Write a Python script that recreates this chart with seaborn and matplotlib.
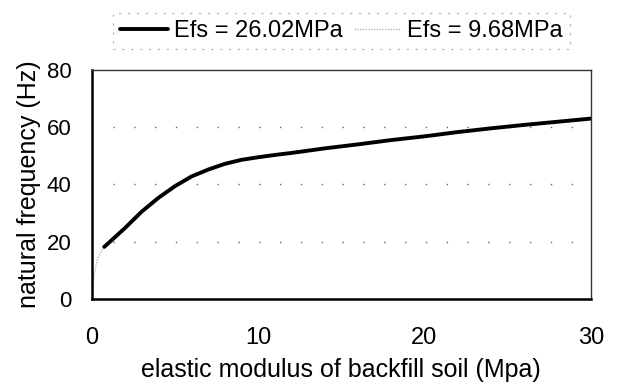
import numpy as np
import pandas as pd
import matplotlib
matplotlib.use("Agg")
import matplotlib.pyplot as plt
import seaborn as sns

# data
efs_high_x = [0.75, 1, 2, 3, 4, 5, 6, 7, 8, 9, 10, 11, 12, 14, 16, 18, 20, 22, 24, 26, 28, 30]
efs_high_y = [18.2, 19.5, 24.8, 30.5, 35.3, 39.4, 42.8, 45.2, 47.2, 48.6, 49.5, 50.3, 51.0,
              52.6, 54.0, 55.5, 56.8, 58.3, 59.6, 60.8, 61.9, 63.0]
efs_low_x = [0, 0.05, 0.15, 0.35, 0.6, 0.75, 1, 2, 3, 4, 5, 6, 7, 8, 9, 10, 12, 16, 20, 24, 30]
efs_low_y = [1, 3, 9, 14, 17, 18.2, 19.5, 24.8, 30.5, 35.3, 39.4, 42.8, 45.2, 47.2, 48.6,
             49.5, 51.0, 54.0, 56.8, 59.6, 63.0]
labels = ["Efs = 26.02MPa", "Efs = 9.68MPa"]
x_ticks = [0, 10, 20, 30]
y_ticks = [0, 20, 40, 60, 80]

sns.set_theme(style="white")
plt.rcParams['font.family'] = ['Liberation Sans', 'DejaVu Sans']
plt.rcParams['text.color'] = 'black'
plt.rcParams['axes.labelcolor'] = 'black'

df_high = pd.DataFrame({'E': efs_high_x, 'f': efs_high_y})
df_low = pd.DataFrame({'E': efs_low_x, 'f': efs_low_y})

fig = plt.figure(figsize=(6.2, 3.85), dpi=100)
ax = fig.add_axes([0.148, 0.2234, 0.805, 0.595])

sns.lineplot(data=df_low, x='E', y='f', ax=ax, color='#b5b5b5', lw=1.0,
             linestyle=(0, (1, 1)), label=labels[1])
sns.lineplot(data=df_high, x='E', y='f', ax=ax, color='black', lw=2.8, label=labels[0])

ax.set_xlim(0, 30)
ax.set_ylim(0, 80)
ax.set_xticks(x_ticks)
ax.set_yticks(y_ticks)
for yv in y_ticks[1:-1]:
    ax.axhline(yv, color='#666666', lw=1.0, linestyle=(0, (1, 14)), zorder=0)

ax.tick_params(axis='both', direction='in', length=7, width=1.5, colors='black')
ax.tick_params(axis='y', pad=14.5, labelsize=16)
ax.tick_params(axis='x', pad=20, labelsize=17)
for side in ['left', 'bottom']:
    ax.spines[side].set_color('black')
    ax.spines[side].set_linewidth(1.8)
for side in ['top', 'right']:
    ax.spines[side].set_color('#333333')
    ax.spines[side].set_linewidth(1.0)

ax.set_xlabel("elastic modulus of backfill soil (Mpa)", fontsize=18, labelpad=7)
ax.set_ylabel("natural frequency (Hz)", fontsize=18, labelpad=4)

handles, lbls = ax.get_legend_handles_labels()
ax.get_legend().remove()
order = [lbls.index(l) for l in labels]
leg = fig.legend([handles[i] for i in order], [lbls[i] for i in order],
                 loc='center', bbox_to_anchor=(0.551, 0.919), ncol=2, fontsize=17,
                 frameon=True, fancybox=False, handlelength=2.0, handletextpad=0.25,
                 columnspacing=0.5, borderpad=0.3)
leg.get_frame().set_edgecolor('#999999')
leg.get_frame().set_linestyle((0, (2, 6)))
leg.get_frame().set_linewidth(0.8)

fig.savefig("out.png", dpi=100)
